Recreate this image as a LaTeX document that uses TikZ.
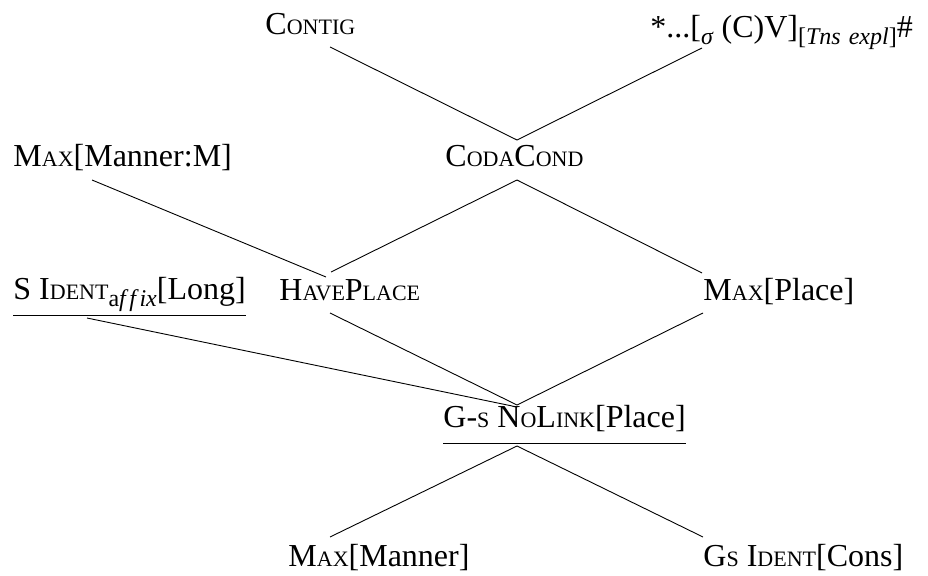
\documentclass[tikz,border=0pt]{standalone}
\usepackage{fontspec}
\setmainfont{Liberation Serif}
\usepackage{tikz}

\newcommand{\fsc}[1]{{\fontsize{22}{26}\selectfont #1}}
\newcommand{\lowsub}[1]{\raisebox{-7pt}{\fontsize{24}{26}\selectfont #1}}

\begin{document}
\begin{tikzpicture}[x=1pt,y=-1pt,line width=0.9pt,
    every node/.style={anchor=base west,inner sep=0pt,font=\fontsize{32}{36}\selectfont}]
    %
    \useasboundingbox (0,0) rectangle (928,575);
    %
    \node (contig) at (265,35) {C\fsc{ONTIG}};
    \node (star) at (650,38) {*...[\lowsub{\textit{σ}} (C)V]\lowsub{[\textit{Tns\kern2pt\ expl}]}\#};
    \node (maxmm) at (13,166) {M\fsc{AX}[Manner:M]};
    \node (coda) at (445,166) {C\fsc{ODA}C\fsc{OND}};
    \node (sid) at (13,299) {S I\fsc{DENT}\lowsub{a\textit{f\kern3.5pt f\kern3.5pt ix}}[Long]};
    \node (have) at (279,300) {H\fsc{AVE}P\fsc{LACE}};
    \node (maxpl) at (703,300) {M\fsc{AX}[Place]};
    \node (nolink) at (443,427) {G-\fsc{S} N\fsc{O}L\fsc{INK}[Place]};
    \node (maxm) at (288,566) {M\fsc{AX}[Manner]};
    \node (gsid) at (703,566) {G\fsc{S} I\fsc{DENT}[Cons]};
    %
    \draw ([yshift=-16pt]sid.base west) -- ([yshift=-16pt]sid.base east);
    \draw ([yshift=-16pt]nolink.base west) -- ([yshift=-16pt]nolink.base east);
    %
    \draw ([shift={(65,12)}]contig.base west) -- ([shift={(72,-26)}]coda.base west);
    \draw ([shift={(52,10)}]star.base west) -- ([shift={(72,-26)}]coda.base west);
    \draw ([shift={(79,14)}]maxmm.base west) -- ([shift={(47,-23)}]have.base west);
    \draw ([shift={(72,14)}]coda.base west) -- ([shift={(52,-28)}]have.base west);
    \draw ([shift={(72,14)}]coda.base west) -- ([shift={(-1,-27)}]maxpl.base west);
    \draw ([shift={(74,19)}]sid.base west) -- ([shift={(74,-20)}]nolink.base west);
    \draw ([shift={(51,13)}]have.base west) -- ([shift={(74,-22)}]nolink.base west);
    \draw ([shift={(0,13)}]maxpl.base west) -- ([shift={(74,-22)}]nolink.base west);
    \draw ([shift={(74,19)}]nolink.base west) -- ([shift={(42,-29)}]maxm.base west);
    \draw ([shift={(74,19)}]nolink.base west) -- ([shift={(0,-29)}]gsid.base west);
    %
\end{tikzpicture}
\end{document}
